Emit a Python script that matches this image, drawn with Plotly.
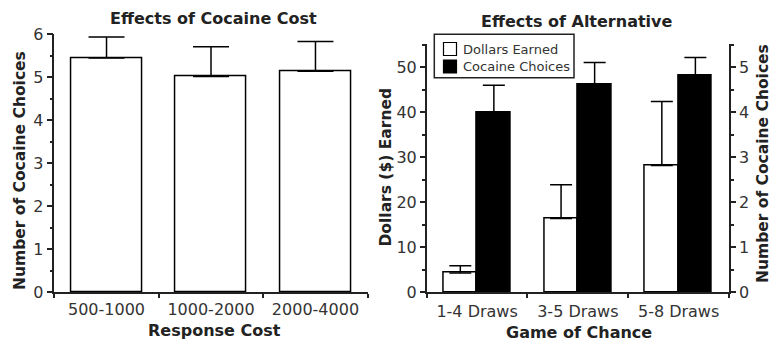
import plotly.graph_objects as go

# Panel 1: effect of response cost on cocaine choices
cost_labels = ["500-1000", "1000-2000", "2000-4000"]
cost_choices = [5.45, 5.02, 5.14]
cost_sem = [0.49, 0.69, 0.69]

# Panel 2: effect of the alternative (game of chance)
draw_labels = ["1-4 Draws", "3-5 Draws", "5-8 Draws"]
dollars = [4.3, 16.4, 28.2]
dollars_sem = [1.6, 7.5, 14.2]
choices = [4.0, 4.62, 4.82]
choices_sem = [0.6, 0.49, 0.40]

FONT = "DejaVu Sans"
TXT = "#222"
LINE = "#222"
W, H = 773, 346

def px_x(p):
    return p / W

def px_y(p):
    return 1 - p / H

x_pos = [0, 1, 2]
fig = go.Figure()

fig.add_trace(go.Bar(
    x=x_pos, y=cost_choices, width=0.68,
    marker=dict(color="white", line=dict(color="black", width=1.5)),
    error_y=dict(type="data", array=cost_sem, arrayminus=[0] * 3, symmetric=False,
                 color="black", thickness=1.5, width=18),
    xaxis="x", yaxis="y", showlegend=False,
))

fig.add_trace(go.Bar(
    x=x_pos, y=dollars, width=0.333, offset=-0.333, name="Dollars Earned",
    marker=dict(color="white", line=dict(color="black", width=1.5)),
    error_y=dict(type="data", array=dollars_sem, arrayminus=[0] * 3, symmetric=False,
                 color="black", thickness=1.5, width=11),
    xaxis="x2", yaxis="y2", showlegend=False,
))
fig.add_trace(go.Bar(
    x=x_pos, y=choices, width=0.333, offset=0.0, name="Cocaine Choices",
    marker=dict(color="black", line=dict(color="black", width=1.5)),
    error_y=dict(type="data", array=choices_sem, arrayminus=[0] * 3, symmetric=False,
                 color="black", thickness=1.5, width=11),
    xaxis="x2", yaxis="y3", showlegend=False,
))

tickfont = dict(family=FONT, size=16, color="#333")
titlefont = dict(family=FONT, size=16, color=TXT, weight="bold")
ytitlefont = dict(family=FONT, size=15.5, color=TXT, weight="bold")
legfont = dict(family=FONT, size=13, color="#333")

xbase = dict(range=[-0.5, 2.5], tickmode="array", tickvals=x_pos, ticks="",
             showline=True, linecolor=LINE, linewidth=1.5, showgrid=False,
             zeroline=False, tickfont=tickfont, fixedrange=True, automargin=False,
             minor=dict(tickmode="array", tickvals=[-0.5, 0.5, 1.5, 2.5],
                        ticks="outside", ticklen=4, tickwidth=1.5, tickcolor=LINE))
ybase = dict(showline=True, linecolor=LINE, linewidth=1.5, showgrid=False,
             zeroline=False, ticks="outside", ticklen=6, tickwidth=1.5, tickcolor=LINE,
             tickfont=tickfont, fixedrange=True, automargin=False)

y_bottom = 292.3

annotations = []

def label(text, x, y, font, angle=0):
    annotations.append(dict(text=text, x=px_x(x), y=px_y(y), xref="paper", yref="paper",
                            xanchor="center", yanchor="middle", showarrow=False,
                            font=font, textangle=angle))

# panel and axis titles
label("Effects of Cocaine Cost", 213, 18.3, titlefont)
label("Effects of Alternative", 577, 21.7, titlefont)
label("Response Cost", 214.7, 330, titlefont)
label("Game of Chance", 579, 332.5, titlefont)
label("Number of Cocaine Choices", 20, 171, ytitlefont, -90)
label("Dollars ($) Earned", 385, 167.5, ytitlefont, -90)
label("Number of Cocaine Choices", 763, 164, ytitlefont, -90)

# legend box for the right panel
leg_x0, leg_x1, leg_y0, leg_y1 = 434.3, 574.0, 34.3, 77.7
legend_items = [("Dollars Earned", "white", 49.0), ("Cocaine Choices", "black", 66.5)]
shapes = [dict(type="rect", xref="paper", yref="paper",
               x0=px_x(leg_x0), x1=px_x(leg_x1), y0=px_y(leg_y1), y1=px_y(leg_y0),
               line=dict(color=LINE, width=1.5), fillcolor="white", layer="above")]
for name, fill, cy in legend_items:
    shapes.append(dict(type="rect", xref="paper", yref="paper",
                       x0=px_x(443.5), x1=px_x(456.5), y0=px_y(cy + 6.5), y1=px_y(cy - 6.5),
                       line=dict(color="black", width=1.2), fillcolor=fill, layer="above"))
    annotations.append(dict(text=name, x=px_x(461), y=px_y(cy), xref="paper", yref="paper",
                            xanchor="left", yanchor="middle", showarrow=False, font=legfont))

fig.update_layout(
    width=W, height=H,
    margin=dict(l=0, r=0, t=0, b=0),
    paper_bgcolor="white", plot_bgcolor="white",
    bargap=0,
    showlegend=False,
    xaxis=dict(xbase, domain=[px_x(54.3), px_x(367.7)], anchor="y",
               ticktext=cost_labels, ticklabelstandoff=2),
    yaxis=dict(ybase, domain=[px_y(y_bottom), px_y(34.3)], anchor="x",
               range=[0, 6], dtick=1,
               minor=dict(dtick=0.5, ticks="outside", ticklen=3, tickwidth=1.5, tickcolor=LINE)),
    xaxis2=dict(xbase, domain=[px_x(426.7), px_x(729)], anchor="y2",
                ticktext=draw_labels, ticklabelstandoff=4),
    yaxis2=dict(ybase, domain=[px_y(y_bottom), px_y(43.5)], anchor="x2",
                range=[0, 55.3], tickvals=[0, 10, 20, 30, 40, 50], ticklen=5,
                minor=dict(tickmode="array", tickvals=[5, 15, 25, 35, 45, 55],
                           ticks="outside", ticklen=3, tickwidth=1.5, tickcolor=LINE)),
    yaxis3=dict(ybase, overlaying="y2", side="right", anchor="x2",
                range=[0, 5.53], tickvals=[0, 1, 2, 3, 4, 5], ticklen=5,
                minor=dict(tickmode="array", tickvals=[0.5, 1.5, 2.5, 3.5, 4.5, 5.5],
                           ticks="outside", ticklen=3, tickwidth=1.5, tickcolor=LINE)),
    shapes=shapes,
    annotations=annotations,
)

fig.write_html("out.html")
